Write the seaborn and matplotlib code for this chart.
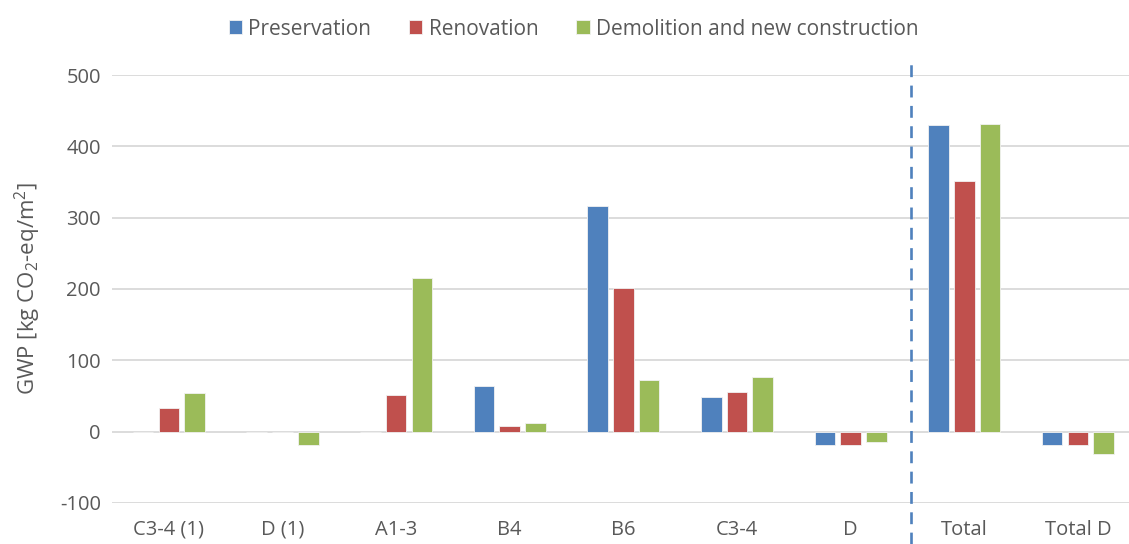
import numpy as np
import pandas as pd
import seaborn as sns
import matplotlib.pyplot as plt

CATEGORIES = ["C3-4 (1)", "D (1)", "A1-3", "B4", "B6", "C3-4", "D", "Total", "Total D"]
SCENARIOS = ["Preservation", "Renovation", "Demolition and new construction"]
PRESERVATION = [0, 0, 0, 64, 316, 49, -18, 430, -18]
RENOVATION = [33, -1, 52, 8, 201, 56, -18, 352, -19]
DEMOLITION = [54, -18, 215, 12, 73, 77, -14, 432, -32]
COLORS = ["#4F81BD", "#C0504D", "#9BBB59"]
Y_TICKS = [-100, 0, 100, 200, 300, 400, 500]

sns.set_theme(style="white")
plt.rcParams["font.family"] = ["Open Sans", "DejaVu Sans"]
plt.rcParams["mathtext.default"] = "regular"
plt.rcParams["axes.unicode_minus"] = False

df = pd.DataFrame({
    "category": CATEGORIES * 3,
    "scenario": np.repeat(SCENARIOS, len(CATEGORIES)),
    "gwp": PRESERVATION + RENOVATION + DEMOLITION,
})

fig = plt.figure(figsize=(11.29, 5.44), dpi=100)
ax = fig.add_axes([112 / 1129, 41 / 544, 1017 / 1129, 428 / 544])

sns.barplot(data=df, x="category", y="gwp", hue="scenario", order=CATEGORIES,
            hue_order=SCENARIOS, palette=COLORS, saturation=1, width=0.68, gap=0.2,
            edgecolor="#F2F2F2", linewidth=0.6, ax=ax, legend=True)

ax.set_ylim(-100, 500)
ax.set_xlim(-0.5, 8.45)
ax.set_yticks(Y_TICKS)
ax.yaxis.grid(True, color="#D9D9D9", linewidth=1.3)
ax.set_axisbelow(True)
for s in ax.spines.values():
    s.set_visible(False)
ax.tick_params(axis="both", length=0, labelsize=14.5, colors="#595959", pad=8)
ax.tick_params(axis="x", pad=12)
ax.set_xlabel("")
ax.set_ylabel("GWP [kg CO$_2$-eq/m$^2$]", fontsize=16, color="#595959", labelpad=12)

# separator between single modules and totals
ax.plot([6.53, 6.53], [-0.096, 1.028], transform=ax.get_xaxis_transform(),
        color="#4F81BD", linestyle=(0, (4.5, 3.2)), linewidth=1.9, clip_on=False)

handles, labels = ax.get_legend_handles_labels()
ax.legend(handles, labels, loc="upper center", bbox_to_anchor=(0.508, 1.0),
          bbox_transform=fig.transFigure, ncol=3,
          frameon=False, fontsize=15, labelcolor="#595959", handlelength=0.65,
          handleheight=0.65, handletextpad=0.3, columnspacing=1.8)

fig.savefig("out.png", dpi=100)
